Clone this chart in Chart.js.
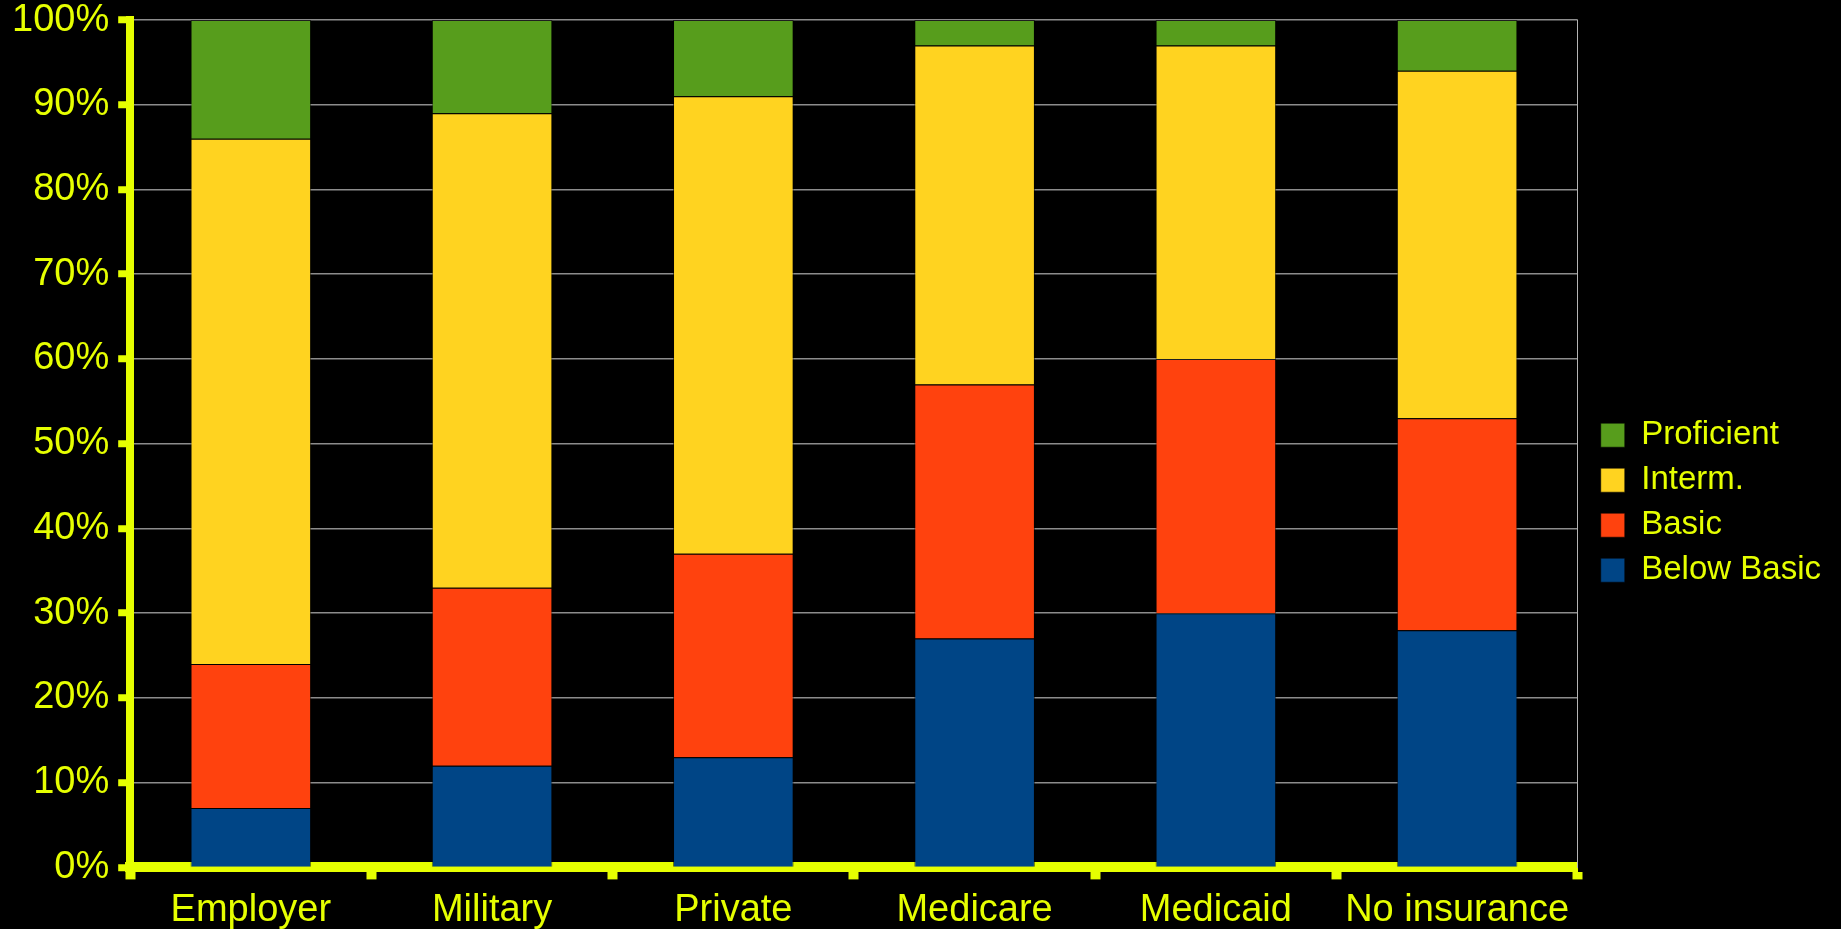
<!DOCTYPE html>
<html>
<head>
<meta charset="utf-8">
<script src="https://cdn.jsdelivr.net/npm/chart.js@4/dist/chart.umd.min.js"></script>
<style>
  html, body { margin: 0; padding: 0; background: #000; }
  #wrap { width: 1841px; height: 929px; }
</style>
</head>
<body>
<div id="wrap"><canvas id="chart" width="1841" height="929"></canvas></div>
<script>
// Health insurance type vs. literacy level (share of each group, %)
const categories = ['Employer', 'Military', 'Private', 'Medicare', 'Medicaid', 'No insurance'];
const belowBasic = [7, 12, 13, 27, 30, 28];
const basic      = [17, 21, 24, 30, 30, 25];
const interm     = [62, 56, 54, 40, 37, 41];
const proficient = [14, 11, 9, 3, 3, 6];
const yTicks = [0, 10, 20, 30, 40, 50, 60, 70, 80, 90, 100];

const TEXT = '#e6ff00';
const FONT = 'Liberation Sans, Arial, sans-serif';

function series(label, data, color) {
  return {
    label, data,
    backgroundColor: color,
    borderColor: 'rgba(0,0,0,0.55)',
    borderWidth: 1,
    categoryPercentage: 0.5,
    barPercentage: 1.0
  };
}

new Chart(document.getElementById('chart'), {
  type: 'bar',
  data: {
    labels: categories,
    datasets: [
      series('Below Basic', belowBasic, '#004586'),
      series('Basic', basic, '#ff420e'),
      series('Interm.', interm, '#ffd320'),
      series('Proficient', proficient, '#579d1c')
    ]
  },
  options: {
    responsive: false,
    animation: false,
    devicePixelRatio: 1,
    layout: { padding: { left: 3, right: 10, top: 0, bottom: -12 } },
    plugins: {
      tooltip: { enabled: false },
      legend: {
        position: 'right',
        reverse: true,
        title: { display: true, text: ' ', font: { size: 12 }, padding: { top: 25, bottom: 25 } },
        labels: {
          color: TEXT,
          font: { family: FONT, size: 33 },
          boxWidth: 24,
          boxHeight: 24,
          padding: 12
        }
      }
    },
    scales: {
      x: {
        stacked: true,
        grid: {
          display: true,
          drawOnChartArea: false,
          tickLength: 12,
          tickWidth: 10,
          tickColor: TEXT,
          color: TEXT
        },
        border: { display: true, color: TEXT, width: 10 },
        ticks: {
          color: TEXT,
          font: { family: FONT, size: 38 },
          padding: 8,
          maxRotation: 0,
          autoSkip: false
        }
      },
      y: {
        stacked: true,
        min: 0,
        max: 100,
        afterBuildTicks: (scale) => { scale.ticks = yTicks.map(v => ({ value: v })); },
        grid: {
          color: '#8c8c8c',
          lineWidth: 1.5,
          tickLength: 12,
          tickWidth: 7,
          tickColor: TEXT
        },
        border: { display: true, color: TEXT, width: 8 },
        ticks: {
          color: TEXT,
          font: { family: FONT, size: 38, lineHeight: 0.58 },
          padding: 9,
          callback: (v) => v + '%'
        }
      },
      yRight: {
        position: 'right',
        display: true,
        min: 0,
        max: 100,
        grid: {
          display: true,
          drawOnChartArea: false,
          tickLength: 11,
          tickColor: 'rgba(0,0,0,0)'
        },
        border: { display: true, color: '#b4b4b4', width: 1 },
        ticks: { display: false }
      }
    }
  }
});
</script>
</body>
</html>
